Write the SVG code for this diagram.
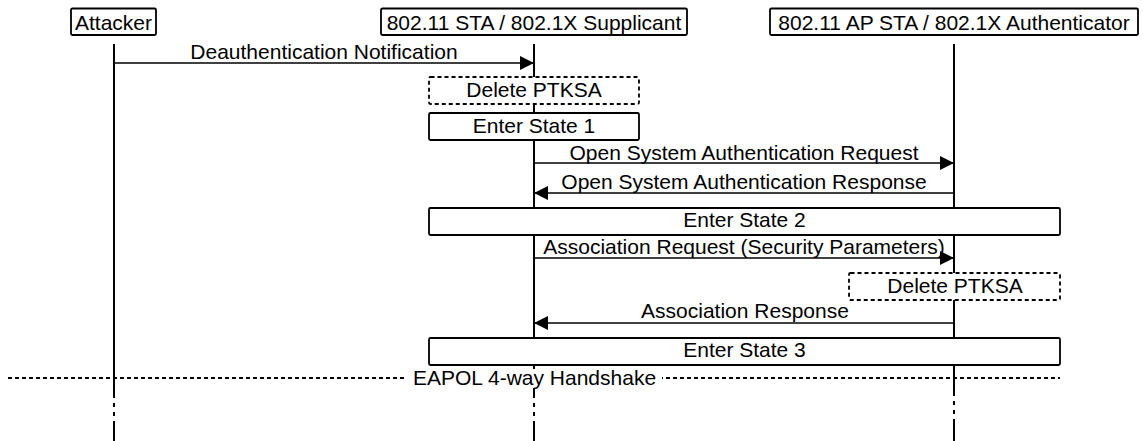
<svg xmlns="http://www.w3.org/2000/svg" width="1143" height="441" viewBox="0 0 1143 441">
<defs>
<marker id="arr" markerUnits="userSpaceOnUse" markerWidth="14" markerHeight="14" viewBox="0 0 14 14" refX="14" refY="7" orient="auto">
<path d="M0,0 L14,7 L0,14 Z" fill="#000"/>
</marker>
</defs>
<style>
text{font-family:"Liberation Sans",Arial,sans-serif;font-size:21px;fill:#000;text-anchor:middle}
.hdr{fill:#fff;stroke:#000;stroke-width:1.8}
.life{stroke:#000;stroke-width:2;fill:none}
.msg{stroke:#000;stroke-width:1.6;fill:none}
.box{fill:#fff;stroke:#000;stroke-width:1.8}
.dbox{fill:#fff;stroke:#000;stroke-width:1.8;stroke-dasharray:4 3}
.sep{stroke:#000;stroke-width:1.8;stroke-dasharray:4 3}
</style>
<rect width="1143" height="441" fill="#fff"/>
<g id="lifelines">
<g class="life">
<line x1="114" y1="44" x2="114" y2="398"/>
<line x1="114" y1="403" x2="114" y2="407"/>
<line x1="114" y1="412" x2="114" y2="416"/>
<line x1="114" y1="421" x2="114" y2="441"/>
<line x1="534" y1="44" x2="534" y2="398"/>
<line x1="534" y1="403" x2="534" y2="407"/>
<line x1="534" y1="412" x2="534" y2="416"/>
<line x1="534" y1="421" x2="534" y2="441"/>
<line x1="954" y1="44" x2="954" y2="396"/>
<line x1="954" y1="401" x2="954" y2="405"/>
<line x1="954" y1="410" x2="954" y2="414"/>
<line x1="954" y1="419" x2="954" y2="441"/>
</g>
</g>
<g id="attacker">
<rect class="hdr" x="71" y="8.5" width="85" height="26.5" rx="1.5"/>
<text x="113.5" y="30">Attacker</text>
</g>
<g id="supplicant">
<rect class="hdr" x="381" y="8.5" width="306" height="26.5" rx="1.5"/>
<text x="534" y="30">802.11 STA / 802.1X Supplicant</text>
</g>
<g id="authenticator">
<rect class="hdr" x="770" y="8.5" width="368" height="26.5" rx="1.5"/>
<text x="954" y="30">802.11 AP STA / 802.1X Authenticator</text>
</g>
<g id="connectors">
<line class="msg" x1="114" y1="63" x2="534" y2="63" marker-end="url(#arr)"/>
<text x="324" y="59">Deauthentication Notification</text>
<line class="msg" x1="534" y1="163" x2="954" y2="163" marker-end="url(#arr)"/>
<text x="744" y="160">Open System Authentication Request</text>
<line class="msg" x1="954" y1="193" x2="534" y2="193" marker-end="url(#arr)"/>
<text x="744" y="189">Open System Authentication Response</text>
<line class="msg" x1="534" y1="258" x2="954" y2="258" marker-end="url(#arr)"/>
<text x="744" y="254">Association Request (Security Parameters)</text>
<line class="msg" x1="954" y1="323" x2="534" y2="323" marker-end="url(#arr)"/>
<text x="745" y="318">Association Response</text>
</g>
<g id="delete1">
<rect class="dbox" x="429" y="77" width="210" height="27" rx="1.5"/>
<text x="534" y="97">Delete PTKSA</text>
</g>
<g id="state1">
<rect class="box" x="429" y="113" width="210" height="27" rx="1.5"/>
<text x="534" y="133">Enter State 1</text>
</g>
<g id="state2">
<rect class="box" x="429" y="208" width="631" height="27" rx="1.5"/>
<text x="744.5" y="227">Enter State 2</text>
</g>
<g id="delete2">
<rect class="dbox" x="849" y="273" width="211" height="27" rx="1.5"/>
<text x="955" y="293">Delete PTKSA</text>
</g>
<g id="state3">
<rect class="box" x="429" y="338" width="631" height="27" rx="1.5"/>
<text x="744.5" y="357">Enter State 3</text>
</g>
<g id="eapol">
<line class="sep" x1="8" y1="378" x2="1060" y2="378"/>
<rect x="406" y="369" width="256" height="19" fill="#fff"/>
<text x="534.5" y="385">EAPOL 4-way Handshake</text>
</g>
</svg>
